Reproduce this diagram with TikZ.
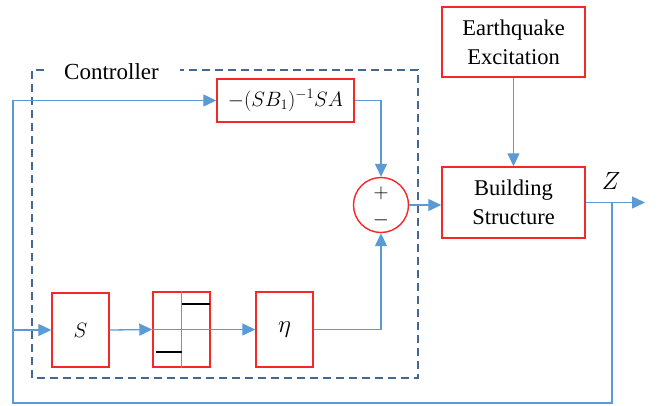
\documentclass[tikz,border=0pt]{standalone}
\usepackage{fontspec}
\setmainfont{Liberation Serif}
\usetikzlibrary{arrows.meta}
\definecolor{rbox}{RGB}{245,40,40}
\definecolor{lblue}{RGB}{91,155,213}
\definecolor{dblue}{RGB}{68,104,143}
\tikzset{
  blk/.style={draw=rbox, line width=1.4pt, fill=white, inner sep=0pt, align=center, font=\fontsize{22.5}{29}\selectfont},
  wire/.style={draw=lblue, line width=1.3pt},
  arr/.style={wire, -{Triangle[length=13pt,width=12pt]}},
  blk2/.style={draw=black, line width=1.4pt}
}
\begin{document}
\begin{tikzpicture}[x=1pt,y=-1pt]
\useasboundingbox (0,0) rectangle (657,405);
% controller dashed frame
\draw[dblue, line width=1.1pt, dash pattern=on 8pt off 5pt] (44,70) -- (32,70) -- (32,378) -- (418,378) -- (418,70) -- (180,70);
\node[font=\fontsize{23}{26}\selectfont, inner sep=0pt] (ctrl) at (111.5,72) {Controller};
% blocks
\node[blk, minimum width=143pt, minimum height=70pt] (eq) at (513.5,42) {Earthquake\\Excitation};
\node[blk, minimum width=143pt, minimum height=71pt] (bs) at (513.5,202.5) {Building\\Structure};
\node[blk, minimum width=137pt, minimum height=43pt, font=\fontsize{20}{25}\selectfont] (gain) at (285.5,100.5) {$-(SB_1)^{-1}SA$};
\node[blk, circle, minimum size=55pt, align=center] (sum) at (381,205) {};
\node[font=\fontsize{22}{26}\selectfont, inner sep=0pt] (plus) at (381,193) {$+$};
\node[font=\fontsize{22}{26}\selectfont, inner sep=0pt] (minus) at (381,220) {$-$};
\node[blk, minimum width=57pt, minimum height=74pt] (S) at (80.5,330) {$S$};
\node[blk, minimum width=57pt, minimum height=75pt] (sat) at (181.5,329.5) {};
\node[blk, minimum width=57pt, minimum height=75pt, font=\fontsize{26}{30}\selectfont] (eta) at (284.5,329.5) {$\eta$};
% saturation internals
\draw[wire] (sat.north) -- (sat.south);
\coordinate (s1) at (182,304); \coordinate (s2) at (210,304);
\coordinate (s3) at (156,352); \coordinate (s4) at (182,352);
\draw[blk2] (s1) -- (s2);
\draw[blk2] (s3) -- (s4);
% connectors
\draw[arr] (gain.east) -| (sum.north);
\draw[arr] (eta.east) -| (sum.south);
\draw[arr] (sum.east) -- (bs.west |- sum.east);
\draw[arr] (eq.south) -- (bs.north);
\coordinate (out) at (645,202.5);
\coordinate (br) at (612,202.5);
\coordinate (lc) at (13,403);
\coordinate (sin) at (13,330);
\draw[arr] (bs.east) -- (out);
\draw[arr] (br) |- (lc) |- (gain.west);
\draw[arr] (sin) -- (S.west);
\draw[arr] (S.east) -- (sat.west);
\draw[arr] (sat.west) -- (eta.west);
\node[font=\fontsize{23}{26}\selectfont, inner sep=0pt] (z) at (611,181) {$Z$};
\end{tikzpicture}
\end{document}
